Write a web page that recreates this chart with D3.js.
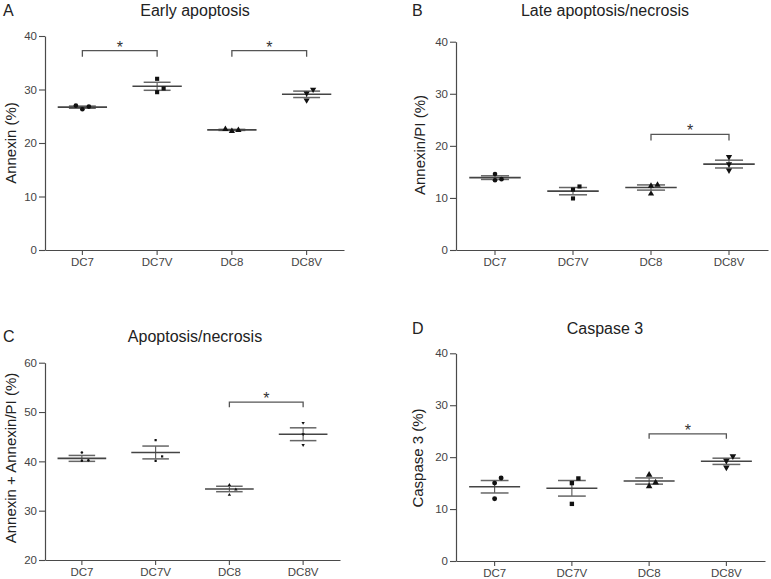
<!DOCTYPE html>
<html>
<head>
<meta charset="utf-8">
<script src="https://cdn.jsdelivr.net/npm/d3@7"></script>
<style>
  html, body { margin: 0; padding: 0; background: #fff; }
  svg { display: block; font-family: "Liberation Sans", Arial, sans-serif; }
</style>
</head>
<body>
<svg id="chart" width="771" height="579"></svg>
<script>
// ---------- data ----------
const categories = ["DC7", "DC7V", "DC8", "DC8V"];
const panelLetters = ["A", "B", "C", "D"];
const panelTitles = ["Early apoptosis", "Late apoptosis/necrosis", "Apoptosis/necrosis", "Caspase 3"];
const yLabels = ["Annexin (%)", "Annexin/PI (%)", "Annexin + Annexin/PI (%)", "Caspase 3 (%)"];
const yDomains = [[0, 40], [0, 40], [20, 60], [0, 40]];
const yTicksAB = [0, 10, 20, 30, 40];
const yTicksC = [20, 30, 40, 50, 60];
const yTicksD = [0, 10, 20, 30, 40];

// individual replicate values per group
const pointsA = [[27.0, 26.3, 26.8], [32.0, 29.5, 30.2], [22.6, 22.2, 22.4], [30.0, 29.3, 28.0]];
const pointsB = [[14.6, 13.4, 13.6], [12.2, 11.6, 9.9], [12.5, 12.3, 10.8], [17.9, 16.5, 15.3]];
const pointsC = [[41.8, 40.1, 40.2], [44.3, 41.0, 40.1], [35.2, 34.3, 33.2], [47.8, 45.5, 43.3]];
const pointsD = [[16.0, 15.0, 12.0], [15.9, 15.0, 11.0], [16.6, 15.1, 14.4], [20.2, 19.3, 18.0]];

// mean and SEM per group
const meansA = [26.7, 30.6, 22.45, 29.1];
const semsA  = [0.2, 0.75, 0.1, 0.6];
const meansB = [13.9, 11.3, 12.0, 16.5];
const semsB  = [0.35, 0.7, 0.5, 0.75];
const meansC = [40.6, 41.8, 34.4, 45.5];
const semsC  = [0.6, 1.3, 0.55, 1.3];
const meansD = [14.3, 14.0, 15.4, 19.2];
const semsD  = [1.2, 1.5, 0.6, 0.6];

// significance brackets: [fromCategory, toCategory, value]
const sigA = [["DC7", "DC7V", 37.25], ["DC8", "DC8V", 37.25]];
const sigB = [["DC8", "DC8V", 22.2]];
const sigC = [["DC8", "DC8V", 52.0]];
const sigD = [["DC8", "DC8V", 24.5]];

// ---------- layout (code, not data) ----------
const panels = [
  { points: pointsA, means: meansA, sems: semsA, sig: sigA, ticks: yTicksAB, domain: yDomains[0],
    x0: 45, x1: 344, yTop: 36, yBot: 250, letterX: 3, titleX: 195, titleY: 15.5,
    ylabX: 16, ylabY: 143, dotSize: 17, legPx: 6 },
  { points: pointsB, means: meansB, sems: semsB, sig: sigB, ticks: yTicksAB, domain: yDomains[1],
    x0: 456, x1: 768, yTop: 41.7, yBot: 250, letterX: 412, titleX: 605, titleY: 15.5,
    ylabX: 425, ylabY: 145, dotSize: 17, legPx: 6 },
  { points: pointsC, means: meansC, sems: semsC, sig: sigC, ticks: yTicksC, domain: yDomains[2],
    x0: 45, x1: 340, yTop: 362.7, yBot: 560, letterX: 3, titleX: 195, titleY: 342,
    ylabX: 16, ylabY: 458, dotSize: 5, legPx: 5 },
  { points: pointsD, means: meansD, sems: semsD, sig: sigD, ticks: yTicksD, domain: yDomains[3],
    x0: 456, x1: 765, yTop: 353.3, yBot: 561, letterX: 412, titleX: 605, titleY: 333.5,
    ylabX: 423, ylabY: 458, dotSize: 19, legPx: 5 }
];

const symbols = [d3.symbolCircle, d3.symbolSquare, d3.symbolTriangle, d3.symbolTriangle];
const symbolRot = [0, 0, 0, 180];

const svg = d3.select("#chart");
const axisColor = "#4a4a4a";
const lineColor = "#555";

panels.forEach((p, pi) => {
  const g = svg.append("g");
  const x = d3.scaleBand().domain(categories).range([p.x0, p.x1]).padding(0);
  const y = d3.scaleLinear().domain(p.domain).range([p.yBot, p.yTop]);
  const bw = x.bandwidth();
  const cx = c => x(c) + bw / 2;

  // panel letter and title
  g.append("text").attr("x", p.letterX).attr("y", p.titleY)
    .attr("font-size", 16).attr("fill", "#222").text(panelLetters[pi]);
  g.append("text").attr("x", p.titleX).attr("y", p.titleY)
    .attr("font-size", 16).attr("fill", "#222").attr("text-anchor", "middle").text(panelTitles[pi]);

  // y label
  g.append("text")
    .attr("transform", `translate(${p.ylabX},${p.ylabY}) rotate(-90)`)
    .attr("font-size", 15).attr("fill", "#222").attr("text-anchor", "middle")
    .text(yLabels[pi]);

  // axes
  const yAxis = d3.axisLeft(y).tickValues(p.ticks).tickSize(6).tickSizeOuter(0).tickPadding(2);
  const yg = g.append("g").attr("transform", `translate(${p.x0},0)`).call(yAxis);
  const xAxis = d3.axisBottom(x).tickSize(5).tickSizeOuter(0).tickPadding(3);
  const xg = g.append("g").attr("transform", `translate(0,${p.yBot})`).call(xAxis);
  [yg, xg].forEach(ax => {
    ax.select(".domain").attr("stroke", axisColor).attr("stroke-width", 1.2);
    ax.selectAll(".tick line").attr("stroke", axisColor).attr("stroke-width", 1.1);
    ax.selectAll(".tick text").attr("fill", "#444").attr("font-size", 11.5)
      .attr("font-family", "'Liberation Sans', Arial, sans-serif");
  });

  // groups
  categories.forEach((c, ci) => {
    const m = p.means[ci], s = p.sems[ci];
    const xc = cx(c);
    const mw = bw * 0.33, sw = bw * 0.18;
    // SEM vertical
    g.append("line").attr("x1", xc).attr("x2", xc).attr("y1", y(m + s)).attr("y2", y(m - s))
      .attr("stroke", lineColor).attr("stroke-width", 1.1);
    // SEM caps
    [m + s, m - s].forEach(v => {
      g.append("line").attr("x1", xc - sw).attr("x2", xc + sw).attr("y1", y(v)).attr("y2", y(v))
        .attr("stroke", "#666").attr("stroke-width", 1.5);
    });
    // mean line
    g.append("line").attr("x1", xc - mw).attr("x2", xc + mw).attr("y1", y(m)).attr("y2", y(m))
      .attr("stroke", "#444").attr("stroke-width", 1.6);

    // points with simple collision jitter (ascending order: first conflict right, then left)
    const vals = p.points[ci].slice().sort((a, b) => a - b);
    const placed = [];
    const step = 6.5, thr = 5.5;
    vals.forEach(v => {
      const py = y(v);
      const conflicts = placed.filter(q => Math.abs(q.py - py) < thr);
      let off = 0;
      const used = conflicts.map(q => q.off);
      const order = [0, step, -step, 2 * step, -2 * step];
      for (const o of order) { if (!used.includes(o)) { off = o; break; } }
      placed.push({ py, off });
      g.append("path")
        .attr("d", d3.symbol().type(symbols[ci]).size(p.dotSize)())
        .attr("transform", `translate(${xc + off},${py}) rotate(${symbolRot[ci]})`)
        .attr("fill", "#111");
    });
  });

  // significance brackets
  p.sig.forEach(([a, b, v]) => {
    const xa = cx(a), xb = cx(b), yy = y(v);
    g.append("path")
      .attr("d", `M${xa},${yy + p.legPx}V${yy}H${xb}V${yy + p.legPx}`)
      .attr("fill", "none").attr("stroke", "#555").attr("stroke-width", 1.3);
    g.append("text").attr("x", (xa + xb) / 2).attr("y", yy + 2)
      .attr("text-anchor", "middle").attr("font-size", 16).attr("fill", "#333").text("*");
  });
});
</script>
</body>
</html>
